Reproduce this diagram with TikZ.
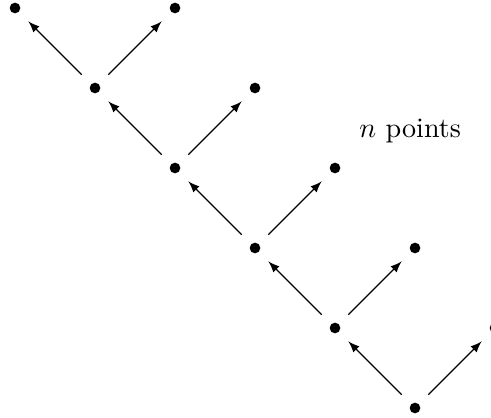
\documentclass[tikz,border=0pt]{standalone}
\usetikzlibrary{arrows}
\begin{document}
\begin{tikzpicture}[
  pt/.style={circle, fill=black, inner sep=0pt, minimum size=3.8pt},
  edge/.style={-latex, shorten <=4.6pt, shorten >=4.6pt}
]
\useasboundingbox (-0.1875,-5.125) rectangle (5.95,0.1);
% left spine of points
\foreach \k in {0,...,5} \node[pt] (L\k) at (\k,-\k) {};
% right branch points
\foreach \k in {0,...,4} \node[pt] (R\k) at (\k+2,-\k) {};
% each spine point points to its upper-left and upper-right neighbours
\foreach \k [evaluate=\k as \j using int(\k+1)] in {0,...,4} {
  \draw[edge] (L\j) -- (L\k);
  \draw[edge] (L\j) -- (R\k);
}
\node (lbl) at (4.94,-1.54) {$n$ points};
\end{tikzpicture}
\end{document}
